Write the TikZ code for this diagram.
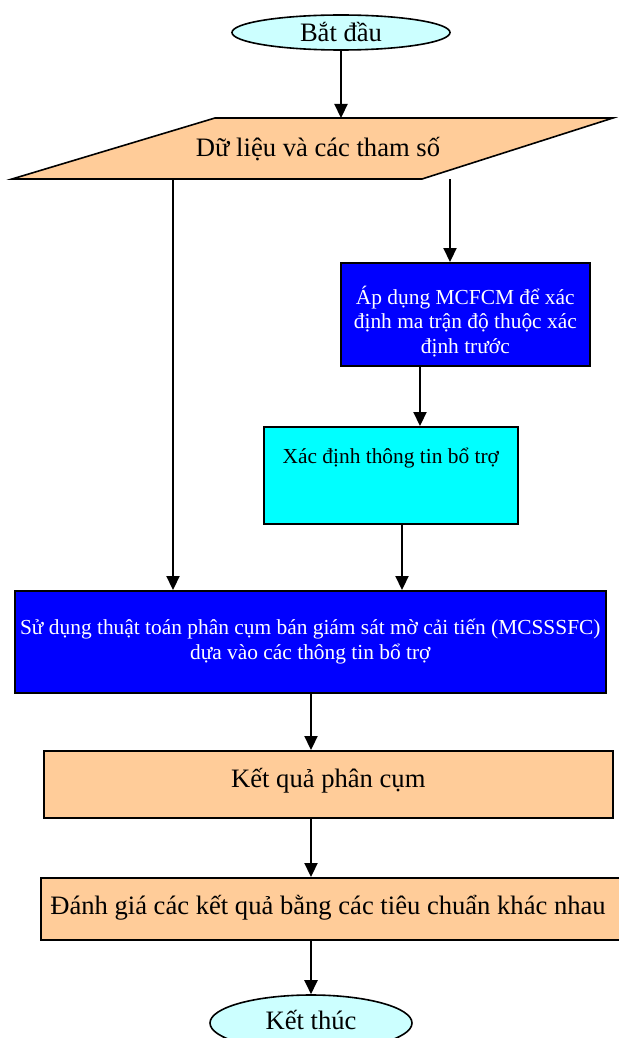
\documentclass[tikz,border=0pt]{standalone}
\usepackage{fontspec}
\setmainfont{Liberation Serif}
\usetikzlibrary{arrows.meta,shapes.geometric}
\definecolor{termfill}{RGB}{204,255,255}
\definecolor{peach}{RGB}{255,204,153}
\definecolor{bluebox}{RGB}{0,0,255}
\definecolor{cyanbox}{RGB}{0,255,255}
\begin{document}
\begin{tikzpicture}[x=1pt,y=-1pt,
  bigtxt/.style={font=\fontsize{26.6}{30}\selectfont},
  smalltxt/.style={font=\fontsize{21.4}{24.5}\selectfont},
  term/.style={ellipse, draw, line width=1.6pt, fill=termfill, inner sep=0pt},
  boxnode/.style={rectangle, draw, line width=1.6pt, inner sep=0pt, anchor=north west},
  arr/.style={line width=2.2pt, -{Triangle[length=14pt,width=13pt]}},
]
\useasboundingbox (0,0) rectangle (618,1038);

% x positions of the vertical connectors
\coordinate (x341) at (341,0);
\coordinate (x173) at (173,0);
\coordinate (x450) at (450,0);
\coordinate (x420) at (420,0);
\coordinate (x402) at (402,0);
\coordinate (x311) at (311,0);

% start
\node[term, minimum width=218pt, minimum height=35pt,
      label={[bigtxt]center:Bắt đầu}] (start) at (341,32.5) {};

% data parallelogram
\draw[line width=1.6pt, fill=peach] (12,179) -- (422,179) -- (613,118) -- (215,118) -- cycle;
\node[bigtxt] (data) at (318,149) {Dữ liệu và các tham số};
\coordinate (dataT) at (341,118);
\coordinate (dataL) at (173,179);
\coordinate (dataR) at (450,179);

% MCFCM box
\node[boxnode, fill=bluebox, minimum width=249pt, minimum height=103pt,
      label={[smalltxt, text=white, align=center, yshift=-7pt]center:Áp dụng MCFCM để xác\\định ma trận độ thuộc xác\\định trước}] (mcfcm) at (340,262) {};

% auxiliary info box
\node[boxnode, fill=cyanbox, minimum width=254pt, minimum height=97pt,
      label={[smalltxt, yshift=17pt]center:Xác định thông tin bổ trợ}] (aux) at (263,426) {};

% big box
\node[boxnode, fill=bluebox, minimum width=591pt, minimum height=102pt,
      label={[smalltxt, text=white, align=center]center:Sử dụng thuật toán phân cụm bán giám sát mờ cải tiến (MCSSSFC)\\dựa vào các thông tin bổ trợ}] (algo) at (14,590) {};

% result
\node[boxnode, fill=peach, minimum width=569pt, minimum height=67pt,
      label={[bigtxt, yshift=4pt]center:Kết quả phân cụm}] (result) at (43,750) {};

% evaluation
\node[boxnode, fill=peach, minimum width=590pt, minimum height=62pt] (eval) at (40,877) {};
\node[bigtxt] (evaltxt) at (328,908) {Đánh giá các kết quả bằng các tiêu chuẩn khác nhau};

% end
\node[term, minimum width=202pt, minimum height=56pt,
      label={[bigtxt, yshift=3pt]center:Kết thúc}] (stop) at (311,1023) {};

% connectors
\draw[arr] (start.south) -- (dataT);
\draw[arr] (dataL) -- (algo.north -| x173);
\draw[arr] (dataR) -- (mcfcm.north -| x450);
\draw[arr] (mcfcm.south -| x420) -- (aux.north -| x420);
\draw[arr] (aux.south -| x402) -- (algo.north -| x402);
\draw[arr] (algo.south -| x311) -- (result.north -| x311);
\draw[arr] (result.south -| x311) -- (eval.north -| x311);
\draw[arr] (eval.south -| x311) -- (stop.north -| x311);
\end{tikzpicture}
\end{document}
